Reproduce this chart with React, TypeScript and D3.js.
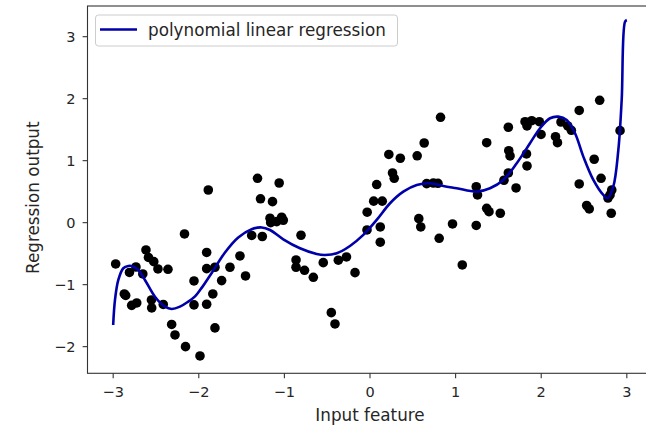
import React from "react";
import * as d3 from "d3";

const pointX = [
  -2.971, -2.870, -2.854, -2.810, -2.734, -2.654, -2.617, -2.588, -2.526, -2.477,
  -2.360, -2.784, -2.725, -2.553, -2.550, -2.415, -2.317, -2.278, -2.155, -1.986,
  -2.167, -1.889, -2.056, -2.056, -1.908, -1.908, -1.811, -1.836, -1.908, -1.811,
  -1.733, -1.636, -1.519, -1.454, -1.314, -1.279, -1.382, -1.258, -1.061, -1.139,
  -1.168, -1.160, -1.032, -1.013, -1.090, -0.806, -0.864, -0.864, -0.765, -0.662,
  -0.546, -0.370, -0.275, -0.175, -0.452, -0.409, -0.035, -0.033, 0.043, 0.143,
  0.078, 0.120, 0.120, 0.220, 0.354, 0.263, 0.283, 0.551, 0.633, 0.824,
  0.662, 0.740, 0.794, 0.570, 0.593, 0.808, 0.964, 1.078, 1.241, 1.256,
  1.363, 1.363, 1.390, 1.522, 1.241, 1.565, 1.616, 1.616, 1.621, 1.636,
  1.706, 1.828, 1.834, 1.811, 1.889, 1.978, 1.834, 1.998, 2.167, 2.190,
  2.231, 2.310, 2.352, 2.444, 2.683, 2.619, 2.699, 2.444, 2.531, 2.561,
  2.824, 2.804, 2.780, 2.818, 2.921,
];
const pointY = [
  -0.666, -1.150, -1.174, -0.803, -0.715, -0.827, -0.440, -0.561, -0.629, -0.747,
  -0.752, -1.335, -1.295, -1.247, -1.376, -1.319, -1.642, -1.811, -2.000, -2.150,
  -0.182, 0.527, -0.940, -1.327, -0.481, -0.742, -0.719, -1.150, -1.316, -1.698,
  -0.935, -0.719, -0.537, -0.860, 0.716, 0.385, -0.206, -0.223, 0.640, 0.339,
  0.071, 0.000, 0.087, 0.039, 0.016, -0.203, -0.602, -0.719, -0.768, -0.881,
  -0.645, -0.606, -0.553, -0.806, -1.452, -1.634, -0.118, 0.169, 0.347, 0.347,
  0.615, -0.069, -0.315, 1.100, 1.039, 0.802, 0.716, 1.079, 1.285, 1.700,
  0.629, 0.640, 0.635, 0.065, -0.069, -0.252, -0.021, -0.682, 0.579, 0.447,
  1.290, 0.232, 0.177, 0.152, -0.045, 0.684, 0.802, 1.539, 1.161, 1.076,
  0.560, 1.108, 0.915, 1.629, 1.645, 1.629, 1.560, 1.423, 1.387, 1.290,
  1.624, 1.560, 1.490, 1.810, 1.974, 1.023, 0.716, 0.624, 0.277, 0.221,
  0.527, 0.447, 0.398, 0.152, 1.484,
];

const lineX = [
  -3.0, -2.979, -2.940, -2.882, -2.824, -2.769, -2.707, -2.629, -2.512, -2.395,
  -2.317, -2.220, -2.123, -2.044, -1.960, -1.849, -1.694, -1.539, -1.382, -1.265,
  -1.168, -1.013, -0.818, -0.623, -0.526, -0.389, -0.234, -0.078, 0.078, 0.234,
  0.389, 0.546, 0.701, 0.856, 1.013, 1.246, 1.402, 1.557, 1.714, 1.869,
  1.986, 2.103, 2.200, 2.298, 2.395, 2.492, 2.609, 2.725, 2.775, 2.842,
  2.901, 2.940, 2.979, 3.0,
];
const lineY = [
  -1.65, -1.247, -0.924, -0.735, -0.698, -0.706, -0.763, -0.924, -1.194, -1.355,
  -1.392, -1.355, -1.274, -1.190, -1.040, -0.811, -0.481, -0.239, -0.106, -0.077,
  -0.118, -0.268, -0.413, -0.505, -0.521, -0.494, -0.376, -0.198, 0.044, 0.313,
  0.500, 0.608, 0.635, 0.592, 0.555, 0.500, 0.555, 0.689, 0.958, 1.281,
  1.523, 1.684, 1.710, 1.656, 1.442, 1.065, 0.689, 0.447, 0.394, 0.581,
  1.173, 1.979, 3.242, 3.27,
];

const xTicks = [-3, -2, -1, 0, 1, 2, 3];
const yTicks = [-2, -1, 0, 1, 2, 3];

const W = 646;
const H = 425;
const FONT = "'DejaVu Sans', sans-serif";
const fmt = (v: number) => (v < 0 ? "\u2212" + Math.abs(v) : String(v));

export default function App() {
  const x = d3.scaleLinear().domain([-3.3, 3.3]).range([87.5, 652.5]);
  const y = d3.scaleLinear().domain([-2.43, 3.495]).range([373.3, 6]);
  const pts = pointX.map((v, i) => [v, pointY[i]] as [number, number]);
  const ln = lineX.map((v, i) => [v, lineY[i]] as [number, number]);
  const path = d3
    .line<[number, number]>()
    .x((d) => x(d[0]))
    .y((d) => y(d[1]))
    .curve(d3.curveCatmullRom.alpha(0.5))(ln);
  const [x0, x1] = x.range();
  const [y0, y1] = y.range();
  return (
    <svg
      width={W}
      height={H}
      style={{ position: "absolute", left: 0, top: 0, background: "#fff" }}
      fontFamily={FONT}
    >
      <rect x={0} y={0} width={W} height={H} fill="#fff" />
      {pts.map((p, i) => (
        <circle key={i} cx={x(p[0])} cy={y(p[1])} r={4.8} fill="#000" />
      ))}
      <path d={path || ""} fill="none" stroke="#0000aa" strokeWidth={2.6} />
      {/* spines */}
      <rect x={x0} y={y1} width={x1 - x0} height={y0 - y1} fill="none" stroke="#333" strokeWidth={1.1} />
      {xTicks.map((t) => (
        <g key={"x" + t}>
          <line x1={x(t)} x2={x(t)} y1={y0} y2={y0 + 4.9} stroke="#333" strokeWidth={1.1} />
          <text x={x(t)} y={y0 + 24} textAnchor="middle" fontSize={14.5} fill="#262626">
            {fmt(t)}
          </text>
        </g>
      ))}
      {yTicks.map((t) => (
        <g key={"y" + t}>
          <line x1={x0 - 4.9} x2={x0} y1={y(t)} y2={y(t)} stroke="#333" strokeWidth={1.1} />
          <text x={x0 - 12} y={y(t) + 5} textAnchor="end" fontSize={14.5} fill="#262626">
            {fmt(t)}
          </text>
        </g>
      ))}
      <text x={(x0 + x1) / 2} y={421} textAnchor="middle" fontSize={16.8} fill="#262626">
        Input feature
      </text>
      <text
        transform={`translate(39,${(y0 + y1) / 2 + 8}) rotate(-90)`}
        textAnchor="middle"
        fontSize={16.8}
        fill="#262626"
      >
        Regression output
      </text>
      {/* legend */}
      <rect x={95.5} y={15} width={302} height={31} rx={3} fill="#fff" fillOpacity={0.8} stroke="#ccc" strokeWidth={1} />
      <line x1={100} x2={137} y1={29.5} y2={29.5} stroke="#0000aa" strokeWidth={2.6} />
      <text x={148} y={35.5} fontSize={16.8} fill="#262626">
        polynomial linear regression
      </text>
    </svg>
  );
}
